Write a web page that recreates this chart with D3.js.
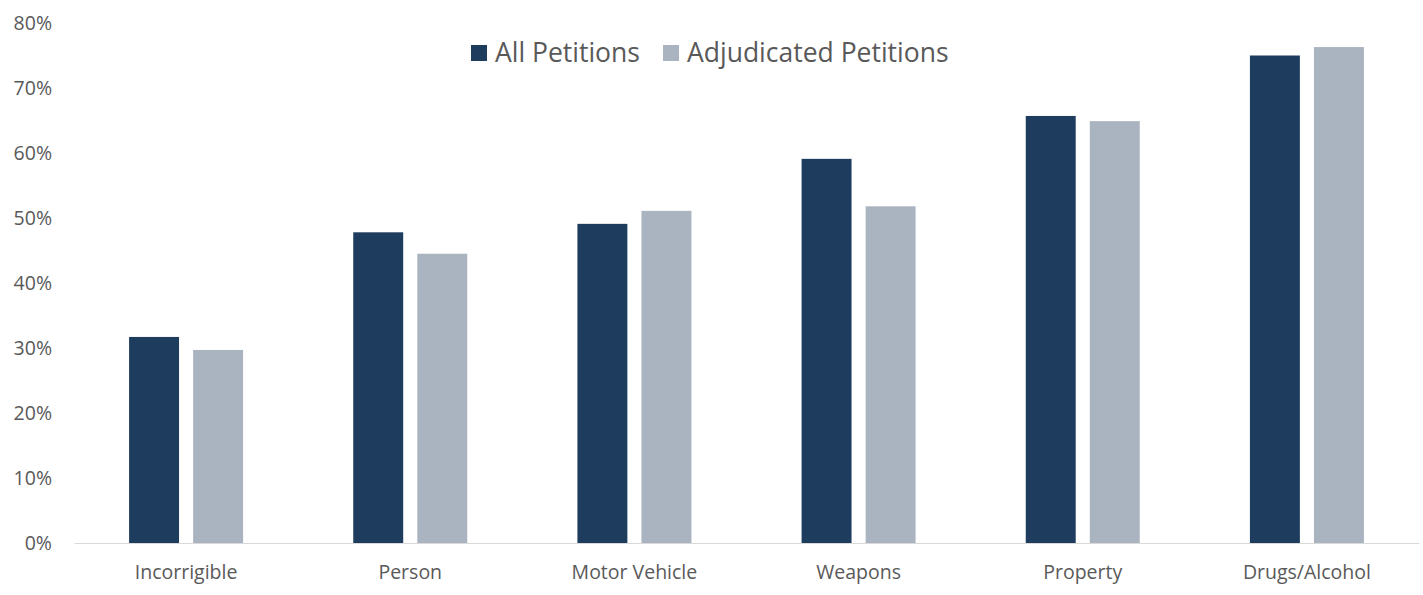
<!DOCTYPE html>
<html>
<head>
<meta charset="utf-8">
<script src="https://cdn.jsdelivr.net/npm/d3@7"></script>
<style>
  body { margin: 0; background: #fff; }
  text { font-family: "Open Sans", "Noto Sans", sans-serif; fill: #595959; }
</style>
</head>
<body>
<div id="chart"></div>
<script>
const categories = ["Incorrigible", "Person", "Motor Vehicle", "Weapons", "Property", "Drugs/Alcohol"];
const seriesNames = ["All Petitions", "Adjudicated Petitions"];
const allPetitions = [31.7, 47.8, 49.1, 59.1, 65.7, 75.0];
const adjudicated = [29.7, 44.5, 51.1, 51.8, 64.9, 76.3];
const yTicks = [0, 10, 20, 30, 40, 50, 60, 70, 80];
const colors = ["#1d3c5e", "#aab4c0"];

const width = 1423, height = 595;
const margin = { top: 23, right: 4, bottom: 52, left: 74 };

const svg = d3.select("#chart").append("svg")
    .attr("width", width)
    .attr("height", height);

const x = d3.scaleBand()
    .domain(categories)
    .range([margin.left, width - margin.right]);

const x1 = d3.scaleBand()
    .domain(seriesNames)
    .range([0, 114])
    .paddingInner(0.22);

const y = d3.scaleLinear()
    .domain([0, 80])
    .range([height - margin.bottom, margin.top]);

const data = categories.map((c, i) => ({ cat: c, values: [allPetitions[i], adjudicated[i]] }));

// bars
const groups = svg.selectAll(".grp")
    .data(data)
    .enter().append("g")
    .attr("class", "grp")
    .attr("transform", d => `translate(${x(d.cat) + x.bandwidth() / 2 - 57}, 0)`);

groups.selectAll("rect")
    .data(d => d.values.map((v, j) => ({ name: seriesNames[j], value: v, j })))
    .enter().append("rect")
    .attr("x", d => x1(d.name))
    .attr("width", x1.bandwidth())
    .attr("y", d => y(d.value))
    .attr("height", d => y(0) - y(d.value))
    .attr("fill", d => colors[d.j]);

// y axis labels
const yAxis = svg.append("g")
    .attr("transform", `translate(${margin.left - 12}, 0)`)
    .call(d3.axisLeft(y).tickValues(yTicks).tickFormat(d => d + "%").tickSize(0).tickPadding(10));
yAxis.select(".domain").remove();
yAxis.selectAll("text")
    .style("font-size", "19.5px")
    .attr("fill", "#595959");

// x axis
const xAxis = svg.append("g")
    .attr("transform", `translate(0, ${y(0)})`)
    .call(d3.axisBottom(x).tickSize(0).tickPadding(22));
xAxis.select(".domain").attr("stroke", "#d9d9d9").attr("stroke-width", 1);
xAxis.selectAll("text")
    .style("font-size", "19.5px")
    .attr("fill", "#595959");

// legend
const legendItems = [
    { name: seriesNames[0], x: 471, color: colors[0] },
    { name: seriesNames[1], x: 663, color: colors[1] }
];
const legend = svg.selectAll(".legend")
    .data(legendItems)
    .enter().append("g")
    .attr("class", "legend")
    .attr("transform", d => `translate(${d.x}, 45)`);
legend.append("rect")
    .attr("width", 16)
    .attr("height", 16)
    .attr("fill", d => d.color);
legend.append("text")
    .attr("x", 24)
    .attr("y", 8)
    .attr("dy", "0.35em")
    .style("font-size", "26.5px")
    .text(d => d.name);
</script>
</body>
</html>
